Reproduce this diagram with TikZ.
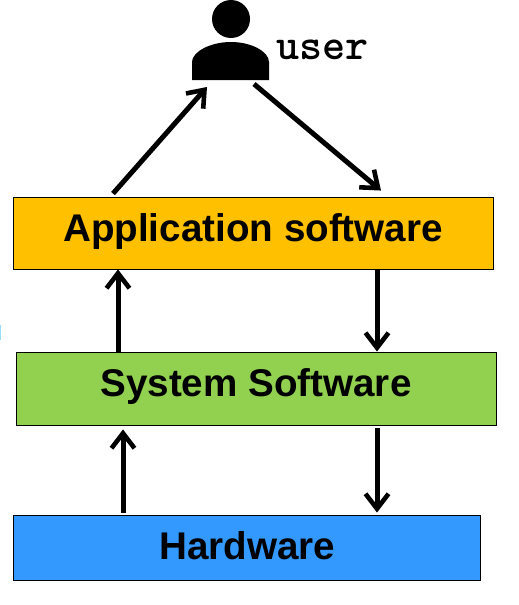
\documentclass[tikz,border=0pt]{standalone}
\usepackage{fontspec}
\setmainfont{Liberation Sans}
\usetikzlibrary{arrows.meta}
\definecolor{apporange}{HTML}{FFC000}
\definecolor{sysgreen}{HTML}{92D050}
\definecolor{hwblue}{HTML}{3399FF}
\tikzset{
    layer/.style={draw=black, line width=.9pt, inner sep=0pt, text height=24pt, text depth=8pt,
        font=\fontsize{38.6}{42}\selectfont\bfseries},
    link/.style={->, line width=5pt}
}
\begin{document}
\begin{tikzpicture}[>={Straight Barb[length=15pt,width=23pt,line width=4.6pt]}, x=1pt, y=-1pt]
\useasboundingbox (0,0) rectangle (519,605);
\node[layer, fill=apporange, minimum width=480pt, minimum height=72pt] (app) at (253,233) {Application software};
\node[layer, fill=sysgreen, minimum width=480pt, minimum height=73pt] (sys) at (256,388.5) {System Software};
\node[layer, fill=hwblue, minimum width=467pt, minimum height=65pt, text height=25pt, text depth=2pt] (hw) at (246.5,547.5) {\hspace{2pt}Hardware};
% person
\node[circle, fill=black, minimum size=38pt, inner sep=0pt] (head) at (231,19) {};
\fill (192,80)--(192,62) .. controls (192,52) and (210,42) .. (231,42) .. controls (252,42) and (269,52) .. (269,62)--(269,80)--cycle;
\node[font=\fontsize{44}{44}\selectfont\ttfamily\bfseries\addfontfeatures{FakeBold=2}, anchor=base west, inner sep=0pt] (user) at (276,59) {user};
\coordinate (userin) at (207,87);
\coordinate (userout) at (254,84);
% arrows
\draw[link] ([xshift=-140pt,yshift=3pt]app.north) -- (userin);
\draw[link] (userout) -- ([xshift=128pt,yshift=6pt]app.north);
\draw[link] ([xshift=-138pt]sys.north) -- ([xshift=-135pt]app.south);
\draw[link] ([xshift=124pt]app.south) -- ([xshift=121pt]sys.north);
\draw[link] ([xshift=-123.5pt,yshift=2pt]hw.north) -- ([xshift=-133pt,yshift=-4pt]sys.south);
\draw[link] ([xshift=121pt,yshift=-3pt]sys.south) -- ([xshift=130.5pt,yshift=2pt]hw.north);
\fill[cyan!40] (0,325) rectangle (1,340);
\end{tikzpicture}
\end{document}
